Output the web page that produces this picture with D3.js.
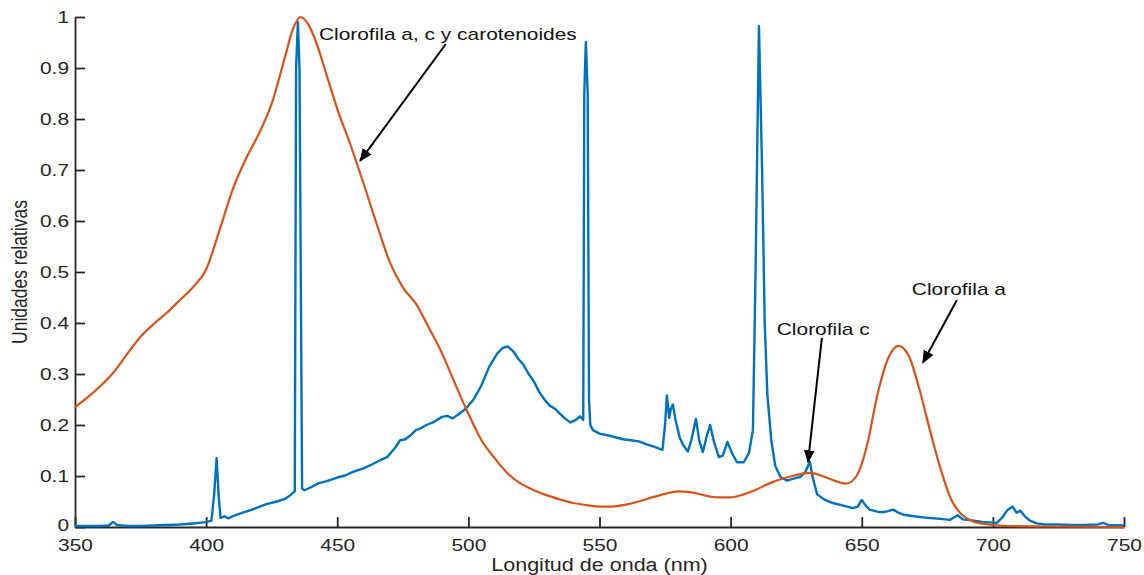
<!DOCTYPE html>
<html>
<head>
<meta charset="utf-8">
<script src="https://cdn.jsdelivr.net/npm/d3@7"></script>
<style>
  html, body { margin: 0; padding: 0; background: #fff; }
  svg { display: block; font-family: "Liberation Sans", Arial, Helvetica, sans-serif; }
</style>
</head>
<body>
<svg id="chart" width="1144" height="575"></svg>
<script>
// ---------- data ----------
const xTicks = [350, 400, 450, 500, 550, 600, 650, 700, 750];
const yTicks = [0, 0.1, 0.2, 0.3, 0.4, 0.5, 0.6, 0.7, 0.8, 0.9, 1];
const yTickLabels = ["0", "0.1", "0.2", "0.3", "0.4", "0.5", "0.6", "0.7", "0.8", "0.9", "1"];
const xLabel = "Longitud de onda (nm)";
const yLabel = "Unidades relativas";

// blue: light spectrum
const blueNm = [350,355,360,363,364.5,366,370,375,380,385,390,395,399,402,403,404,404.8,405.5,407,408.5,411,414,417,420,423,427,430,432,433.8,434.3,435,435.6,436.6,437.5,440,443,446,450,453,456,460,463,466,469,472,474,476,478,480,482,484,486.5,488,490,492,494,496,499,502,505,508,511,513,515,517,519,521,523,525,527,529,531,533,535,537,539,541,542.5,543.8,544.2,544.8,545.5,546,546.5,547.5,550,553,556,559,562,565,568,571,574,575,575.7,576.6,577.2,578,579,580.6,582,583.7,585,586.8,588,589.4,591,592.2,593.5,595.5,597,598.8,600.5,602.4,605,607,608.5,609.5,610.8,612,613,614,615.5,617,619,621.5,624,626.5,628.5,630.2,631.4,633,636,639,643,646.6,648.5,650,651.5,653,656,658,660,662,664,666,670,675,680,683.6,686.6,688.5,692,696,701.5,703.8,705.5,707.5,709,710.5,712,714,716.7,720,725,730,735,740,742,744,750];
const blueVal = [0.002,0.002,0.002,0.003,0.010,0.004,0.002,0.002,0.003,0.004,0.005,0.007,0.009,0.012,0.06,0.135,0.06,0.018,0.021,0.017,0.023,0.028,0.033,0.039,0.045,0.050,0.055,0.062,0.07,0.9,0.99,0.9,0.075,0.072,0.078,0.086,0.09,0.097,0.101,0.108,0.115,0.122,0.13,0.137,0.155,0.17,0.172,0.18,0.19,0.194,0.2,0.205,0.21,0.216,0.218,0.213,0.22,0.232,0.25,0.278,0.315,0.34,0.351,0.354,0.345,0.33,0.318,0.3,0.285,0.265,0.25,0.238,0.232,0.222,0.212,0.205,0.21,0.217,0.21,0.85,0.951,0.85,0.25,0.2,0.19,0.183,0.18,0.176,0.172,0.17,0.168,0.162,0.157,0.151,0.2,0.258,0.214,0.232,0.24,0.21,0.175,0.16,0.148,0.17,0.212,0.17,0.147,0.18,0.2,0.17,0.137,0.14,0.167,0.145,0.127,0.127,0.145,0.19,0.5,0.982,0.7,0.4,0.26,0.17,0.12,0.098,0.091,0.095,0.098,0.108,0.128,0.095,0.064,0.053,0.047,0.042,0.037,0.04,0.053,0.042,0.034,0.03,0.029,0.031,0.034,0.028,0.024,0.021,0.018,0.016,0.014,0.023,0.015,0.013,0.01,0.008,0.02,0.033,0.04,0.028,0.032,0.022,0.013,0.007,0.005,0.005,0.004,0.004,0.005,0.008,0.004,0.003];

// orange: absorption
const orangeNm = [350,355,360,365,370,375,380,385,390,395,400,405,410,415,420,425,430,433,436,439,442,446,450,455,460,465,470,475,480,485,490,495,500,505,510,515,520,525,530,535,540,545,550,555,560,565,570,575,580,585,590,595,600,605,610,615,620,625,630,635,640,644,648,652,656,660,664,668,672,676,680,684,688,692,698,705,720,750];
const orangeVal = [0.235,0.255,0.278,0.305,0.34,0.373,0.398,0.42,0.445,0.47,0.505,0.58,0.66,0.72,0.77,0.83,0.92,0.975,1.0,0.985,0.95,0.885,0.82,0.75,0.674,0.595,0.52,0.47,0.438,0.39,0.34,0.28,0.222,0.17,0.135,0.105,0.085,0.072,0.062,0.054,0.047,0.043,0.04,0.04,0.044,0.05,0.058,0.065,0.07,0.068,0.062,0.058,0.058,0.064,0.074,0.086,0.095,0.102,0.106,0.1,0.09,0.085,0.1,0.16,0.26,0.33,0.355,0.335,0.27,0.19,0.115,0.055,0.025,0.012,0.005,0.002,0.001,0.0];

// annotations (data coordinates)
const annoText = ["Clorofila a, c y carotenoides", "Clorofila a", "Clorofila c"];
const annoTextPos = [[443, 0.955], [669.1, 0.455], [617.6, 0.376]];
const annoArrowFrom = [[491.4, 0.947], [686.3, 0.445], [634.8, 0.371]];
const annoArrowTo = [[458.7, 0.718], [673.3, 0.322], [629.5, 0.127]];

// ---------- drawing ----------
const SX = 1.23; // horizontal stretch of text in the original
const svg = d3.select("#chart");
const x = d3.scaleLinear().domain([350, 750]).range([75, 1124]);
const y = d3.scaleLinear().domain([0, 1]).range([527, 17]);
const axisColor = "#262626";

// x axis
const gx = svg.append("g").attr("transform", `translate(0,${y(0)})`)
  .call(d3.axisBottom(x).tickValues(xTicks).tickFormat(d3.format("d")).tickSizeInner(-10).tickSizeOuter(0).tickPadding(12));
// y axis
const gy = svg.append("g").attr("transform", `translate(${x(350)},0)`)
  .call(d3.axisLeft(y).tickValues(yTicks).tickFormat((d, i) => yTickLabels[i]).tickSizeInner(-10).tickSizeOuter(0).tickPadding(6));

[gx, gy].forEach(g => {
  g.select(".domain").attr("stroke", axisColor).attr("stroke-width", 1.8);
  g.selectAll(".tick line").attr("stroke", axisColor).attr("stroke-width", 1.8);
  g.selectAll(".tick text").attr("fill", axisColor).attr("font-size", 17)
    .attr("font-family", "Liberation Sans, Arial, sans-serif");
});
gx.selectAll(".tick text").attr("transform", `scale(${SX},1)`);
gy.selectAll(".tick text").attr("x", -6 / SX).attr("transform", `scale(${SX},1)`);
// lift the "0" label slightly so it does not collide with "350"
gy.selectAll(".tick text").filter(d => d === 0).attr("dy", "0.2em");

// lines
const blueData = blueNm.map((d, i) => [d, blueVal[i]]);
const orangeData = orangeNm.map((d, i) => [d, orangeVal[i]]);

svg.append("path").datum(blueData)
  .attr("fill", "none").attr("stroke", "#0072BD").attr("stroke-width", 2.4)
  .attr("stroke-linejoin", "round")
  .attr("d", d3.line().x(d => x(d[0])).y(d => y(d[1])));

svg.append("path").datum(orangeData)
  .attr("fill", "none").attr("stroke", "#D95319").attr("stroke-width", 2.2)
  .attr("d", d3.line().curve(d3.curveMonotoneX).x(d => x(d[0])).y(d => y(d[1])));

// axis labels
svg.append("text")
  .attr("transform", `translate(${(x(350) + x(750)) / 2},571) scale(${SX},1)`)
  .attr("text-anchor", "middle").attr("font-size", 17.5).attr("fill", axisColor)
  .text(xLabel);
svg.append("text")
  .attr("transform", `translate(27,${y(0.5)}) scale(${SX},1) rotate(-90)`)
  .attr("text-anchor", "middle").attr("font-size", 17.5).attr("fill", axisColor)
  .text(yLabel);

// arrows
svg.append("defs").append("marker")
  .attr("id", "arrowhead").attr("viewBox", "0 0 12 10")
  .attr("refX", 11).attr("refY", 5)
  .attr("markerWidth", 13).attr("markerHeight", 11)
  .attr("markerUnits", "userSpaceOnUse").attr("orient", "auto")
  .append("path").attr("d", "M0,0 L12,5 L0,10 Z").attr("fill", "#000");

annoText.forEach((t, i) => {
  svg.append("line")
    .attr("x1", x(annoArrowFrom[i][0])).attr("y1", y(annoArrowFrom[i][1]))
    .attr("x2", x(annoArrowTo[i][0])).attr("y2", y(annoArrowTo[i][1]))
    .attr("stroke", "#000").attr("stroke-width", 2)
    .attr("marker-end", "url(#arrowhead)");
  svg.append("text")
    .attr("transform", `translate(${x(annoTextPos[i][0])},${y(annoTextPos[i][1])}) scale(${SX},1)`)
    .attr("font-size", 17).attr("fill", "#111")
    .text(t);
});
</script>
</body>
</html>
